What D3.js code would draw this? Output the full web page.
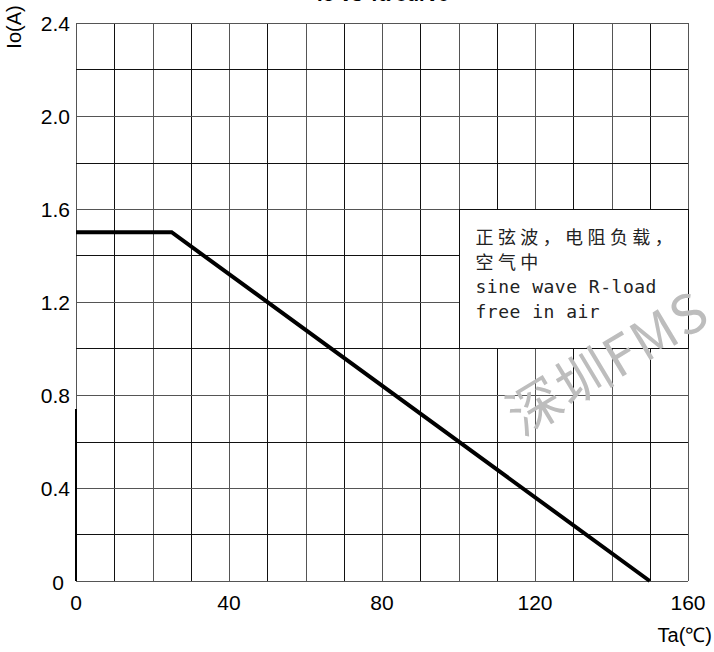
<!DOCTYPE html>
<html>
<head>
<meta charset="utf-8">
<script src="https://cdn.jsdelivr.net/npm/d3@7"></script>
<style>
  html, body { margin: 0; padding: 0; background: #fff; }
  svg { display: block; }
</style>
</head>
<body>
<svg id="chart" width="714" height="652"></svg>
<script>
// ---- data ----
const xDomain = [0, 160];
const yDomain = [0, 2.4];
const xTickLabels = [0, 40, 80, 120, 160];
const yTickLabels = ["0", "0.4", "0.8", "1.2", "1.6", "2.0", "2.4"];
const yTickValues = [0, 0.4, 0.8, 1.2, 1.6, 2.0, 2.4];
const xGrid = [0, 10, 20, 30, 40, 50, 60, 70, 80, 90, 100, 110, 120, 130, 140, 150, 160];
const yGrid = [0, 0.2, 0.4, 0.6, 0.8, 1.0, 1.2, 1.4, 1.6, 1.8, 2.0, 2.2, 2.4];
const curveTa = [0, 25, 150];
const curveIo = [1.5, 1.5, 0];
const noteBox = { x0: 100, x1: 160, y0: 1.0, y1: 1.6 };
const noteLines = ["正弦波，电阻负载，", "空气中", "sine wave R-load", "free in air"];
const titleText = "Io vs Ta curve";
const xTitle = "Ta(℃)";
const yTitle = "Io(A)";
const watermark = "深圳FMS";

// ---- layout ----
const W = 714, H = 652;
const m = { left: 76, right: 26, top: 23, bottom: 71 };
const svg = d3.select("#chart");
const x = d3.scaleLinear().domain(xDomain).range([m.left, W - m.right]);
const y = d3.scaleLinear().domain(yDomain).range([H - m.bottom, m.top]);
const sansFont = "'Liberation Sans', Arial, sans-serif";

// title (mostly cut off at the top edge, as in the source)
svg.append("text").attr("x", 383).attr("y", 1)
  .attr("text-anchor", "middle").attr("font-family", sansFont)
  .attr("font-weight", "bold").attr("font-size", 20).attr("fill", "#000")
  .text(titleText);

// grid
const g = svg.append("g");
g.selectAll("line.v").data(xGrid).enter().append("line")
  .attr("x1", d => Math.round(x(d)) + 0.5).attr("x2", d => Math.round(x(d)) + 0.5)
  .attr("y1", y(2.4)).attr("y2", y(0))
  .attr("stroke", (d, i) => i % 2 ? "#111" : "#555").attr("stroke-width", 1);
g.selectAll("line.h").data(yGrid).enter().append("line")
  .attr("y1", d => Math.round(y(d)) + 0.5).attr("y2", d => Math.round(y(d)) + 0.5)
  .attr("x1", x(0)).attr("x2", x(160))
  .attr("stroke", (d, i) => i % 2 ? "#111" : "#555").attr("stroke-width", 1);

// note box
svg.append("rect")
  .attr("x", Math.round(x(noteBox.x0)) + 0.5)
  .attr("y", Math.round(y(noteBox.y1)) + 0.5)
  .attr("width", Math.round(x(noteBox.x1)) - Math.round(x(noteBox.x0)))
  .attr("height", Math.round(y(noteBox.y0)) - Math.round(y(noteBox.y1)))
  .attr("fill", "#fff").attr("stroke", "#111").attr("stroke-width", 1);
const noteX = x(noteBox.x0) + 17;
const noteY0 = y(noteBox.y1) + 35;
noteLines.forEach((t, i) => {
  const cjk = /[\u4e00-\u9fff]/.test(t);
  svg.append("text").attr("x", noteX).attr("y", noteY0 + i * 24.5)
    .attr("font-family", cjk ? "'Noto Sans CJK SC', sans-serif" : "'DejaVu Sans Mono', 'Liberation Mono', monospace")
    .attr("font-size", 18)
    .attr("letter-spacing", cjk ? 4.4 : 0.5)
    .attr("fill", "#222").text(t);
});

// left axis: thick lower portion
svg.append("line").attr("x1", x(0)).attr("x2", x(0)).attr("y1", y(0.74)).attr("y2", y(0))
  .attr("stroke", "#000").attr("stroke-width", 2);

// curve
const line = d3.line().x(d => x(d[0])).y(d => y(d[1]));
svg.append("path").datum(curveTa.map((t, i) => [t, curveIo[i]]))
  .attr("d", line).attr("fill", "none").attr("stroke", "#000")
  .attr("stroke-width", 4).attr("stroke-linejoin", "miter");

// y tick labels
svg.selectAll("text.yt").data(yTickValues).enter().append("text")
  .attr("x", (d, i) => i === 0 ? 64 : 70)
  .attr("y", (d, i) => y(d) + (i === 0 ? 3 : 2))
  .attr("text-anchor", "end").attr("dominant-baseline", "middle")
  .attr("font-family", sansFont).attr("font-size", 21).attr("fill", "#000")
  .text((d, i) => yTickLabels[i]);

// x tick labels
svg.selectAll("text.xt").data(xTickLabels).enter().append("text")
  .attr("x", d => x(d)).attr("y", y(0) + 29)
  .attr("text-anchor", "middle")
  .attr("font-family", sansFont).attr("font-size", 21).attr("fill", "#000")
  .text(d => d);

// axis titles
svg.append("text").attr("x", 712).attr("y", 642).attr("text-anchor", "end")
  .attr("font-family", sansFont).attr("font-size", 20).attr("fill", "#000").text(xTitle);
svg.append("text").attr("transform", "translate(21,27) rotate(-90)")
  .attr("text-anchor", "middle")
  .attr("font-family", sansFont).attr("font-size", 20).attr("fill", "#000").text(yTitle);

// watermark
svg.append("text").attr("transform", "translate(522,437) rotate(-31)")
  .attr("font-family", "'Noto Sans CJK SC', sans-serif").attr("font-size", 54)
  .attr("letter-spacing", 2)
  .attr("fill", "#bdbdbd").text(watermark);
</script>
</body>
</html>
